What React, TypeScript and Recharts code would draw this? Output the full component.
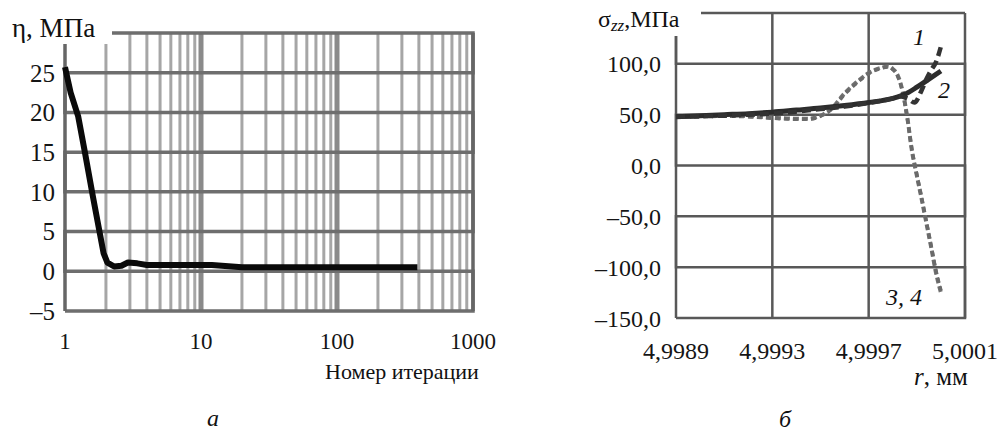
import React from 'react';
import { LineChart, Line, XAxis, YAxis } from 'recharts';

const FONT = '"Liberation Serif", serif';

// ---- Chart (а): residual vs iteration number (log x) ----
const etaIter = [1, 1.1, 1.25, 1.4, 1.6, 1.78, 1.92, 2.05, 2.3, 2.6, 2.9, 3.4, 4, 6, 12, 20, 390];
const etaValue = [25.7, 22.5, 19.5, 15, 9.5, 5.3, 2.3, 1.1, 0.6, 0.7, 1.1, 1.0, 0.8, 0.8, 0.8, 0.5, 0.5];
const etaTicksX = [1, 10, 100, 1000];
const etaMinorX = [2, 3, 4, 5, 6, 7, 8, 9, 20, 30, 40, 50, 60, 70, 80, 90, 200, 300, 400, 500, 600, 700, 800, 900];
const etaMajorX = [10, 100];
const etaEdgeX = [1, 1000];
const etaTicksY = [-5, 0, 5, 10, 15, 20, 25];
const etaGridY = [-5, 0, 5, 10, 15, 20, 25, 30];
const etaXMin = 1;
const etaXMax = 1000;
const etaYMin = -5;
const etaYMax = 30;

// ---- Chart (б): sigma_zz vs r ----
const rTicks = [4.9989, 4.9993, 4.9997, 5.0001];
const sTicks = [-150, -100, -50, 0, 50, 100];
const sGrid = [-150, -100, -50, 0, 50, 100, 150];
const rMin = 4.9989;
const rMax = 5.0001;
const sMin = -150;
const sMax = 150;

const r1 = [4.9989, 4.999, 4.9991, 4.9992, 4.9993, 4.9994, 4.9995, 4.9996, 4.9997, 4.9998, 4.99983, 4.99986, 4.99989, 4.99992, 4.99994, 4.99996, 4.99998, 5.0];
const s1 = [48, 48.5, 49, 50, 51, 53, 55.5, 58, 61.5, 66, 68, 66, 62, 74, 85, 94, 102, 117];

const r2 = [4.9989, 4.999, 4.9991, 4.9992, 4.9993, 4.9994, 4.9995, 4.9996, 4.9997, 4.9998, 4.99985, 4.9999, 4.99995, 5.0];
const s2 = [48, 49, 50, 51, 52.5, 54.5, 56.5, 59, 62, 66, 70, 77, 85, 93];

const r34 = [4.9989, 4.999, 4.9991, 4.9992, 4.9993, 4.9994, 4.99945, 4.9995, 4.99955, 4.9996, 4.99965, 4.9997, 4.99975, 4.99978, 4.9998, 4.99982, 4.99984, 4.99986, 4.99988, 4.9999, 4.99992, 4.99994, 4.99996, 4.99998, 5.0];
const s3 = [48, 48.5, 49, 48.5, 47, 46, 46, 49, 57, 71, 82, 91, 96, 97.5, 95, 89, 74, 48, 14, -10, -33, -57, -81, -106, -125];
const s4 = [47.5, 48, 48.5, 48, 46.5, 45.5, 45.5, 48.5, 56, 70, 81, 90.5, 95.5, 97, 94.5, 88, 73, 47, 15, -9, -32, -56, -80, -104, -123];

const zip = (xs: number[], ys: number[]) => xs.map((x, i) => ({ x, y: ys[i] }));
const etaData = zip(etaIter, etaValue);
const d1 = zip(r1, s1);
const d2 = zip(r2, s2);
const d3 = zip(r34, s3);
const d4 = zip(r34, s4);

// all horizontal grid levels joined into one path that runs back and forth across the plot
const serpentine = (levels: number[], lo: number, hi: number) =>
  levels.flatMap((v, i) =>
    i % 2 === 0 ? [{ x: lo, y: v }, { x: hi, y: v }] : [{ x: hi, y: v }, { x: lo, y: v }]
  );
const etaHGrid = serpentine(etaGridY, etaXMin, etaXMax);
const sHGrid = serpentine(sGrid, rMin, rMax);

const dashNeg = (s: string) => s.replace('-', '\u2013');
const xTickA = { fontFamily: FONT, fontSize: 23, fill: '#151515' };
const yTickA = { fontFamily: FONT, fontSize: 25, fill: '#151515' };
const tickB = { fontFamily: FONT, fontSize: 24, fill: '#151515' };

const txt = (extra: React.CSSProperties): React.CSSProperties => ({
  position: 'absolute',
  fontFamily: FONT,
  color: '#111',
  lineHeight: 1,
  whiteSpace: 'nowrap',
  ...extra,
});

export default function App() {
  return (
    <div style={{ position: 'absolute', left: 0, top: 0, width: 997, height: 432, background: '#fff' }}>
      {/* Chart а */}
      <div style={{ position: 'absolute', left: 0, top: 0 }}>
        <LineChart width={500} height={432} margin={{ top: 33, right: 27, bottom: 91, left: 0 }}>
          <XAxis
            dataKey="x"
            type="number"
            scale="log"
            domain={[etaXMin, etaXMax]}
            ticks={etaTicksX}
            interval={0}
            axisLine={false}
            tickLine={false}
            tickMargin={16}
            height={30}
            tick={xTickA}
          />
          <YAxis
            type="number"
            domain={[etaYMin, etaYMax]}
            ticks={etaTicksY}
            interval={0}
            axisLine={false}
            tickLine={false}
            tickMargin={4}
            width={65}
            tick={yTickA}
            tickFormatter={(v: number) => dashNeg(String(v))}
          />
          {etaMinorX.map((v) => (
            <Line key={'mn' + v} data={[{ x: v, y: etaYMin }, { x: v, y: etaYMax }]} dataKey="y" stroke="#a6a6a6" strokeWidth={3} dot={false} isAnimationActive={false} />
          ))}
          {etaMajorX.map((v) => (
            <Line key={'mj' + v} data={[{ x: v, y: etaYMin }, { x: v, y: etaYMax }]} dataKey="y" stroke="#8a8a8a" strokeWidth={5} dot={false} isAnimationActive={false} />
          ))}
          <Line data={etaHGrid} dataKey="y" type="linear" stroke="#6e6e6e" strokeWidth={3.5} strokeLinejoin="miter" dot={false} isAnimationActive={false} />
          {etaEdgeX.map((v) => (
            <Line key={'ed' + v} data={[{ x: v, y: etaYMin }, { x: v, y: etaYMax }]} dataKey="y" stroke="#666" strokeWidth={3.5} dot={false} isAnimationActive={false} />
          ))}
          <Line data={etaData} dataKey="y" stroke="#0a0a0a" strokeWidth={6} strokeLinejoin="round" dot={false} isAnimationActive={false} />
        </LineChart>
      </div>

      {/* Chart б */}
      <div style={{ position: 'absolute', left: 500, top: 0 }}>
        <LineChart width={497} height={432} margin={{ top: 13, right: 32, bottom: 84, left: 0 }}>
          <XAxis
            dataKey="x"
            type="number"
            domain={[rMin, rMax]}
            ticks={rTicks}
            interval={0}
            axisLine={false}
            tickLine={false}
            tickMargin={18}
            height={30}
            tick={tickB}
            tickFormatter={(v: number) => v.toFixed(4).replace('.', ',')}
          />
          <YAxis
            type="number"
            domain={[sMin, sMax]}
            ticks={sTicks}
            interval={0}
            axisLine={false}
            tickLine={false}
            tickMargin={9}
            width={176}
            tick={tickB}
            tickFormatter={(v: number) => dashNeg(v.toFixed(1).replace('.', ','))}
          />
          <Line data={sHGrid} dataKey="y" type="linear" stroke="#585858" strokeWidth={2.5} strokeLinejoin="miter" dot={false} isAnimationActive={false} />
          {rTicks.map((v, i) => (
            <Line key={'bv' + i} data={[{ x: v, y: sMin }, { x: v, y: sMax }]} dataKey="y" stroke="#585858" strokeWidth={2.5} dot={false} isAnimationActive={false} />
          ))}
          <Line data={d3} dataKey="y" type="monotone" stroke="#747474" strokeWidth={4} strokeDasharray="6 3" dot={false} isAnimationActive={false} />
          <Line data={d4} dataKey="y" type="monotone" stroke="#6a6a6a" strokeWidth={3.5} strokeDasharray="5 4" dot={false} isAnimationActive={false} />
          <Line data={d2} dataKey="y" type="monotone" stroke="#2c2c2c" strokeWidth={5} dot={false} isAnimationActive={false} />
          <Line data={d1} dataKey="y" type="monotone" stroke="#333" strokeWidth={4.5} strokeDasharray="9 5" dot={false} isAnimationActive={false} />
        </LineChart>
      </div>

      {/* White boxes behind the axis titles */}
      <div style={{ position: 'absolute', left: 0, top: 0, width: 112, height: 44, background: '#fff' }} />
      <div style={{ position: 'absolute', left: 560, top: 0, width: 141, height: 36, background: '#fff' }} />

      {/* Texts */}
      <div style={txt({ left: 12, top: 15, fontSize: 27 })}>η, МПа</div>
      <div style={txt({ left: 598, top: 7, fontSize: 24 })}>
        σ<span style={{ fontStyle: 'italic', fontSize: 17, position: 'relative', top: 4 }}>zz</span>,МПа
      </div>
      <div style={txt({ left: 913, top: 25, fontSize: 24, fontStyle: 'italic' })}>1</div>
      <div style={txt({ left: 938, top: 78, fontSize: 24, fontStyle: 'italic' })}>2</div>
      <div style={txt({ left: 886, top: 285, fontSize: 24, fontStyle: 'italic' })}>3, 4</div>
      <div style={txt({ left: 325, top: 361, fontSize: 22 })}>Номер итерации</div>
      <div style={txt({ left: 914, top: 364, fontSize: 25 })}>
        <span style={{ fontStyle: 'italic' }}>r</span>, мм
      </div>
      <div style={txt({ left: 213, top: 406, fontSize: 24, fontStyle: 'italic', transform: 'translateX(-50%)' })}>а</div>
      <div style={txt({ left: 785, top: 407, fontSize: 24, fontStyle: 'italic', transform: 'translateX(-50%)' })}>б</div>
    </div>
  );
}
